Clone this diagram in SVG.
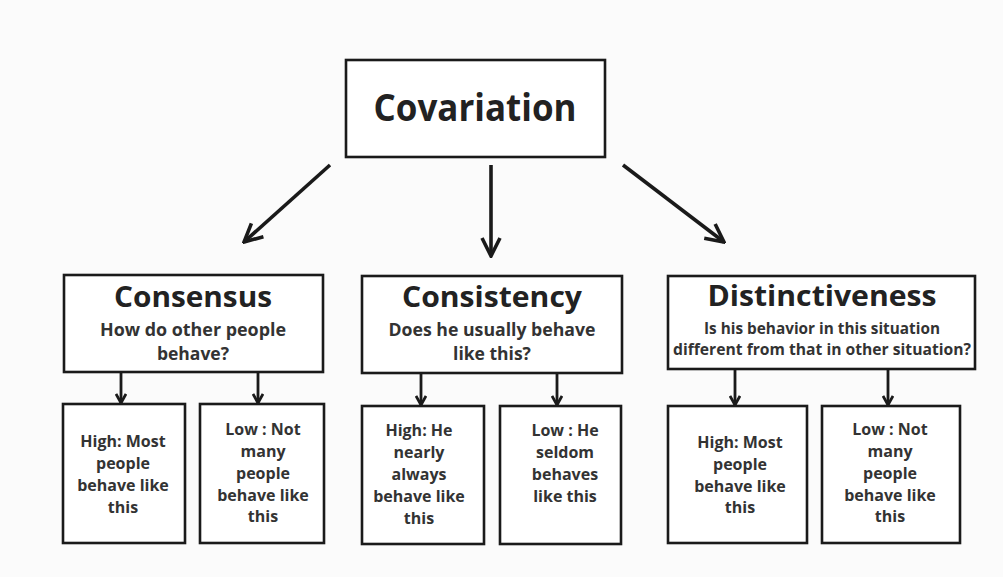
<svg xmlns="http://www.w3.org/2000/svg" width="1003" height="577" viewBox="0 0 1003 577">
  <defs>
    <marker id="vee" viewBox="0 0 12 12" refX="10" refY="6" markerWidth="12" markerHeight="12" markerUnits="userSpaceOnUse" orient="auto">
      <path d="M1,1 L10,6 L1,11" fill="none" stroke="#1a1a1a" stroke-width="2.8" stroke-linejoin="miter"/>
    </marker>
    <marker id="veeBig" viewBox="0 0 22 22" refX="20" refY="11" markerWidth="22" markerHeight="22" markerUnits="userSpaceOnUse" orient="auto">
      <path d="M2,2 L20,11 L2,20" fill="none" stroke="#1a1a1a" stroke-width="3.6"/>
    </marker>
  </defs>
  <style>
    .box { fill: #ffffff; stroke: #1a1a1a; stroke-width: 2.6; }
    text { font-family: "Open Sans", "Noto Sans", "Liberation Sans", sans-serif; font-weight: 700; fill: #222222; text-anchor: middle; }
    .root { font-size: 37px; }
    .title { font-size: 29px; }
    .sub { font-size: 17.5px; fill: #333333; }
    .sub2 { font-size: 15.5px; fill: #333333; }
    .leaf { font-size: 16px; fill: #333333; }
    .big { stroke: #1a1a1a; stroke-width: 3.6; fill: none; marker-end: url(#veeBig); }
    .small { stroke: #1a1a1a; stroke-width: 2.8; fill: none; marker-end: url(#vee); }
  </style>
  <rect width="1003" height="577" fill="#fbfbfb"/>

  <g id="connectors">
    <line class="big" x1="330" y1="165" x2="244" y2="242"/>
    <line class="big" x1="491" y1="165" x2="491" y2="256"/>
    <line class="big" x1="623" y1="165" x2="724" y2="242"/>
    <line class="small" x1="121" y1="372" x2="121" y2="403"/>
    <line class="small" x1="258" y1="372" x2="258" y2="403"/>
    <line class="small" x1="421" y1="373" x2="421" y2="405"/>
    <line class="small" x1="557" y1="373" x2="557" y2="405"/>
    <line class="small" x1="735" y1="369" x2="735" y2="405"/>
    <line class="small" x1="888" y1="369" x2="888" y2="405"/>
  </g>

  <g id="covariation">
    <rect class="box" x="346" y="60" width="259" height="97"/>
    <text class="root" x="475" y="121" textLength="203" lengthAdjust="spacingAndGlyphs">Covariation</text>
  </g>

  <g id="consensus">
    <rect class="box" x="64" y="275" width="259" height="97"/>
    <text class="title" x="193" y="307" textLength="158" lengthAdjust="spacingAndGlyphs">Consensus</text>
    <text class="sub" x="193" y="336" textLength="186" lengthAdjust="spacingAndGlyphs">How do other people</text>
    <text class="sub" x="193" y="360">behave?</text>
  </g>

  <g id="consistency">
    <rect class="box" x="362" y="276" width="260" height="97"/>
    <text class="title" x="492" y="307" textLength="180" lengthAdjust="spacingAndGlyphs">Consistency</text>
    <text class="sub" x="492" y="336" textLength="207" lengthAdjust="spacingAndGlyphs">Does he usually behave</text>
    <text class="sub" x="492" y="360">like this?</text>
  </g>

  <g id="distinctiveness">
    <rect class="box" x="668" y="276" width="307" height="93"/>
    <text class="title" x="822" y="306" textLength="229" lengthAdjust="spacingAndGlyphs">Distinctiveness</text>
    <text class="sub2" x="822" y="334" textLength="236" lengthAdjust="spacingAndGlyphs">Is his behavior in this situation</text>
    <text class="sub2" x="822" y="355" textLength="298" lengthAdjust="spacingAndGlyphs">different from that in other situation?</text>
  </g>

  <g id="consensus-high">
    <rect class="box" x="63" y="404" width="122" height="139"/>
    <text class="leaf" x="123" y="447">High: Most</text>
    <text class="leaf" x="123" y="469">people</text>
    <text class="leaf" x="123" y="491">behave like</text>
    <text class="leaf" x="123" y="513">this</text>
  </g>

  <g id="consensus-low">
    <rect class="box" x="200" y="404" width="124" height="139"/>
    <text class="leaf" x="263" y="435">Low : Not</text>
    <text class="leaf" x="263" y="457">many</text>
    <text class="leaf" x="263" y="479">people</text>
    <text class="leaf" x="263" y="501">behave like</text>
    <text class="leaf" x="263" y="522">this</text>
  </g>

  <g id="consistency-high">
    <rect class="box" x="362" y="406" width="122" height="138"/>
    <text class="leaf" x="419" y="436">High: He</text>
    <text class="leaf" x="419" y="458">nearly</text>
    <text class="leaf" x="419" y="480">always</text>
    <text class="leaf" x="419" y="502">behave like</text>
    <text class="leaf" x="419" y="524">this</text>
  </g>

  <g id="consistency-low">
    <rect class="box" x="500" y="406" width="121" height="138"/>
    <text class="leaf" x="565" y="436">Low :  He</text>
    <text class="leaf" x="565" y="458">seldom</text>
    <text class="leaf" x="565" y="480">behaves</text>
    <text class="leaf" x="565" y="502">like this</text>
  </g>

  <g id="distinctiveness-high">
    <rect class="box" x="668" y="406" width="139" height="137"/>
    <text class="leaf" x="740" y="448">High: Most</text>
    <text class="leaf" x="740" y="470">people</text>
    <text class="leaf" x="740" y="492">behave like</text>
    <text class="leaf" x="740" y="513">this</text>
  </g>

  <g id="distinctiveness-low">
    <rect class="box" x="822" y="406" width="138" height="137"/>
    <text class="leaf" x="890" y="435">Low : Not</text>
    <text class="leaf" x="890" y="457">many</text>
    <text class="leaf" x="890" y="479">people</text>
    <text class="leaf" x="890" y="501">behave like</text>
    <text class="leaf" x="890" y="522">this</text>
  </g>
</svg>
